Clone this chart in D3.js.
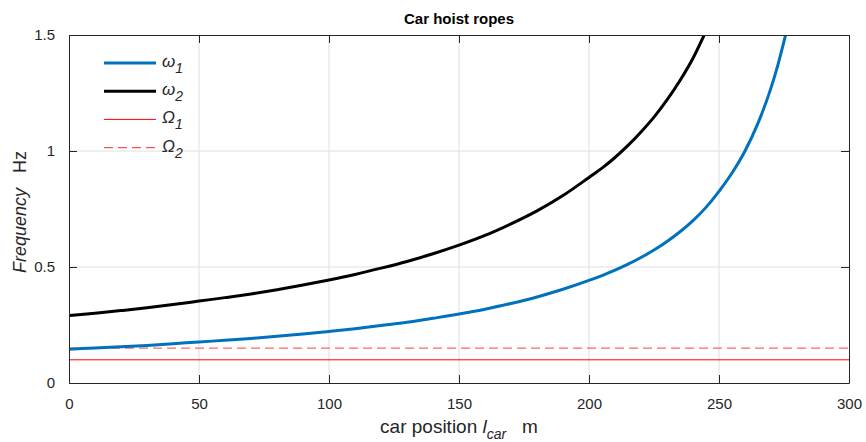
<!DOCTYPE html>
<html>
<head>
<meta charset="utf-8">
<script src="https://cdn.jsdelivr.net/npm/d3@7"></script>
<style>
  body { margin: 0; background: #fff; }
  text { font-family: "Liberation Sans", Arial, Helvetica, sans-serif; fill: #262626; }
</style>
</head>
<body>
<div id="chart"></div>
<script>
////////////////////////////////////////////////////////////////
// Data

// omega_1 : car position (m) / frequency (Hz)
var w1Pos = [0, 10, 20, 30, 40, 50, 60, 70, 80, 90, 100, 110, 120, 130, 140, 150, 160, 170, 180, 190, 200, 205, 210, 215, 220, 225, 230, 235, 240, 245, 250, 255, 260, 265, 270, 272.5, 275.6];
var w1Freq = [0.146, 0.151, 0.156, 0.162, 0.169, 0.177, 0.184, 0.192, 0.201, 0.211, 0.222, 0.234, 0.248, 0.262, 0.279, 0.297, 0.318, 0.343, 0.371, 0.404, 0.442, 0.463, 0.486, 0.512, 0.541, 0.573, 0.61, 0.652, 0.70, 0.757, 0.826, 0.905, 1.0, 1.12, 1.272, 1.365, 1.5];

// omega_2
var w2Pos = [0, 10, 20, 30, 40, 50, 60, 70, 80, 90, 100, 110, 120, 130, 140, 150, 160, 170, 180, 190, 200, 205, 210, 215, 220, 225, 230, 235, 240, 244.3];
var w2Freq = [0.291, 0.301, 0.312, 0.324, 0.338, 0.353, 0.368, 0.384, 0.402, 0.422, 0.444, 0.468, 0.495, 0.524, 0.557, 0.594, 0.636, 0.686, 0.742, 0.808, 0.886, 0.926, 0.972, 1.024, 1.082, 1.146, 1.22, 1.304, 1.40, 1.5];

// excitation frequencies Omega_1, Omega_2 (constant)
var omega1 = 0.1;
var omega2 = 0.15;

var xTicks = [0, 50, 100, 150, 200, 250, 300];
var yTicks = [0, 0.5, 1, 1.5];

////////////////////////////////////////////////////////////////
// Basic parameters

var svgWidth = 866;
var svgHeight = 442;
var margin = { top: 35, right: 17, bottom: 59, left: 69 };
var width = svgWidth - margin.left - margin.right;
var height = svgHeight - margin.top - margin.bottom;

var svg = d3.select("#chart")
    .append("svg")
    .attr("width", svgWidth)
    .attr("height", svgHeight);

var chart = svg.append("g")
    .attr("transform", `translate(${margin.left}, ${margin.top})`);

var x = d3.scaleLinear().domain([0, 300]).range([0, width]);
var y = d3.scaleLinear().domain([0, 1.5]).range([height, 0]);

var axisColor = "#262626";

// Grid
chart.append("g")
    .selectAll("line")
    .data(xTicks.slice(1, -1))
    .enter()
    .append("line")
    .attr("x1", d => x(d)).attr("x2", d => x(d))
    .attr("y1", 0).attr("y2", height)
    .attr("stroke", "#dedede");

chart.append("g")
    .selectAll("line")
    .data(yTicks.slice(1, -1))
    .enter()
    .append("line")
    .attr("x1", 0).attr("x2", width)
    .attr("y1", d => y(d)).attr("y2", d => y(d))
    .attr("stroke", "#dedede");

// Clip
svg.append("defs").append("clipPath").attr("id", "plotClip")
    .append("rect").attr("width", width).attr("height", height);

var plot = chart.append("g").attr("clip-path", "url(#plotClip)");

var line = d3.line()
    .x(d => x(d[0]))
    .y(d => y(d[1]))
    .curve(d3.curveMonotoneX);

// Omega lines
plot.append("line")
    .attr("x1", x(0)).attr("x2", x(300))
    .attr("y1", y(omega1)).attr("y2", y(omega1))
    .attr("stroke", "#ff0000")
    .attr("stroke-width", 1);

plot.append("line")
    .attr("x1", x(0)).attr("x2", x(300))
    .attr("y1", y(omega2)).attr("y2", y(omega2))
    .attr("stroke", "#ff6464")
    .attr("stroke-width", 1.2)
    .attr("stroke-dasharray", "9,5");

// omega curves
plot.append("path")
    .datum(d3.zip(w1Pos, w1Freq))
    .attr("d", line)
    .attr("fill", "none")
    .attr("stroke", "#0072BD")
    .attr("stroke-width", 3);

plot.append("path")
    .datum(d3.zip(w2Pos, w2Freq))
    .attr("d", line)
    .attr("fill", "none")
    .attr("stroke", "#000000")
    .attr("stroke-width", 3);

// Axes (MATLAB style: inner ticks on all four sides)
var tickLen = 8;
var fmt = d3.format("~g");

var xAxis = chart.append("g")
    .attr("transform", `translate(0, ${height})`)
    .call(d3.axisBottom(x).tickValues(xTicks).tickSizeInner(-tickLen).tickSizeOuter(0).tickPadding(tickLen + 7));
var xTop = chart.append("g")
    .call(d3.axisTop(x).tickValues(xTicks).tickSizeInner(-tickLen).tickSizeOuter(0).tickFormat(""));
var yAxis = chart.append("g")
    .call(d3.axisLeft(y).tickValues(yTicks).tickFormat(fmt).tickSizeInner(-tickLen).tickSizeOuter(0).tickPadding(tickLen + 6));
var yRight = chart.append("g")
    .attr("transform", `translate(${width}, 0)`)
    .call(d3.axisRight(y).tickValues(yTicks).tickSizeInner(-tickLen).tickSizeOuter(0).tickFormat(""));

[xAxis, xTop, yAxis, yRight].forEach(function (g) {
    g.select(".domain").attr("stroke", axisColor);
    g.selectAll(".tick line").attr("stroke", axisColor);
    g.selectAll(".tick text").attr("fill", axisColor).style("font-size", "15px");
});

// Title
svg.append("text")
    .attr("x", margin.left + width / 2)
    .attr("y", 24)
    .attr("text-anchor", "middle")
    .style("font-size", "15px")
    .style("font-weight", "bold")
    .style("fill", "#000")
    .text("Car hoist ropes");

// X label
var xLabel = svg.append("text")
    .attr("x", margin.left + width / 2)
    .attr("y", 433)
    .attr("text-anchor", "middle")
    .style("font-size", "19px");
xLabel.append("tspan").text("car position ");
xLabel.append("tspan").style("font-style", "italic").text("l");
xLabel.append("tspan").style("font-style", "italic").style("font-size", "14px").attr("dy", 6).text("car");
xLabel.append("tspan").attr("dy", -6).text("\u00a0\u00a0\u00a0m");

// Y label
var yLabel = svg.append("text")
    .attr("transform", `translate(26, ${margin.top + height / 2 + 3}) rotate(-90)`)
    .attr("text-anchor", "middle")
    .style("font-size", "18px");
yLabel.append("tspan").style("font-style", "italic").text("Frequency");
yLabel.append("tspan").text("\u00a0\u00a0\u00a0Hz");

// Legend (no box)
var legendItems = [
    { sym: "\u03c9", sub: "1", color: "#0072BD", width: 3, dash: null },
    { sym: "\u03c9", sub: "2", color: "#000000", width: 3, dash: null },
    { sym: "\u03a9", sub: "1", color: "#ff0000", width: 1, dash: null },
    { sym: "\u03a9", sub: "2", color: "#ff5050", width: 1.2, dash: "9,5" }
];

var legend = svg.append("g").attr("transform", "translate(104, 63)");

var entry = legend.selectAll("g")
    .data(legendItems)
    .enter()
    .append("g")
    .attr("transform", (d, i) => `translate(0, ${i * 28.2})`);

entry.append("line")
    .attr("x1", 0).attr("x2", 52)
    .attr("stroke", d => d.color)
    .attr("stroke-width", d => d.width)
    .attr("stroke-dasharray", d => d.dash);

var entryText = entry.append("text")
    .attr("x", 58)
    .attr("y", 4)
    .style("font-size", "17px")
    .style("font-style", "italic");
entryText.append("tspan").text(d => d.sym);
entryText.append("tspan").attr("dy", 6).style("font-size", "14px").text(d => d.sub);
</script>
</body>
</html>
